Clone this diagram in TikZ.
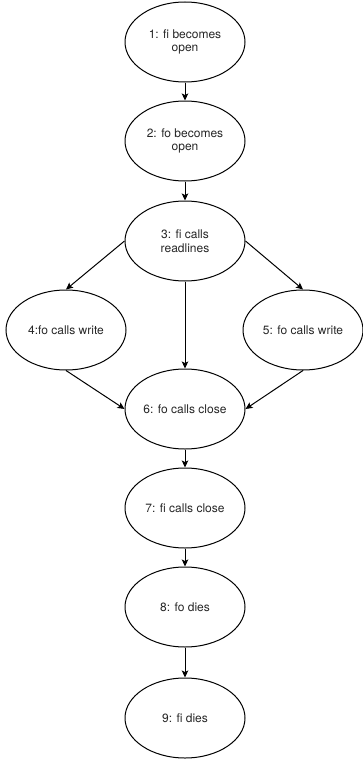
\documentclass[tikz,border=0pt]{standalone}
\usepackage{fontspec}
\setmainfont{TeX Gyre Heros}
\usepackage{tikz}
\usetikzlibrary{arrows.meta, shapes.geometric}

\begin{document}
\begin{tikzpicture}[x=1pt, y=-1pt,
    every node/.style={font=\fontsize{12}{13.5}\selectfont, text=black!85},
    event/.style={draw, ellipse, line width=1pt, minimum width=120pt, minimum height=80pt, inner sep=0pt, align=center},
    flow/.style={-{Stealth[length=7pt, width=6.5pt, inset=1.5pt]}, line width=1pt}]
    \useasboundingbox (0,0) rectangle (363,760);

    % Opening the files
    \node[event] (open1) at (185,42) {1: fi becomes\\open};
    \node[event] (open2) at (185,141) {2: fo becomes\\open};

    % Reading
    \node[event] (read) at (185,241) {3: fi calls\\readlines};

    % Writes - one on each side
    \node[event] (write4) at (66,330) {4:fo calls write};
    \node[event] (write5) at (303,330) {5: fo calls write};

    % Closing and ending
    \node[event] (close6) at (185,409) {6: fo calls close};
    \node[event] (close7) at (185,508) {7: fi calls close};
    \node[event] (dies8) at (185,607) {8: fo dies};
    \node[event] (dies9) at (185,718) {9: fi dies};

    % Edges down the middle
    \draw[flow] (open1) -- (open2);
    \draw[flow] (open2) -- (read);
    \draw[flow] (read) -- (close6);

    % Edges to and from the writes
    \draw[flow] (read.west) -- (write4.north);
    \draw[flow] (read.east) -- (write5.north);
    \draw[flow] (write4.south) -- (close6.west);
    \draw[flow] (write5.south) -- (close6.east);

    % Edges to the end
    \draw[flow] (close6) -- (close7);
    \draw[flow] (close7) -- (dies8);
    \draw[flow] (dies8) -- (dies9);
\end{tikzpicture}
\end{document}
